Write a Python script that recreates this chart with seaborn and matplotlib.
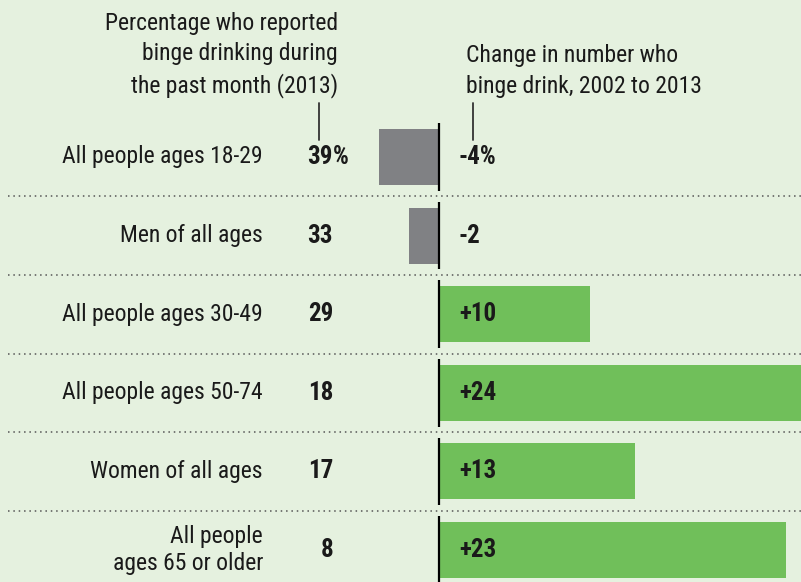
import matplotlib
matplotlib.use('Agg')
import matplotlib.pyplot as plt
import matplotlib.transforms as mtransforms
from matplotlib import font_manager
import seaborn as sns
import pandas as pd

groups = ['All people ages 18-29', 'Men of all ages', 'All people ages 30-49',
          'All people ages 50-74', 'Women of all ages', 'All people\nages 65 or older']
pct_2013 = [39, 33, 29, 18, 17, 8]
change = [-4, -2, 10, 24, 13, 23]
change_labels = ['-4%', '-2', '+10', '+24', '+13', '+23']

bg = '#e5f1df'
green = '#70bf5a'
gray = '#808184'

sns.set_theme(style='white')
installed = {f.name for f in font_manager.fontManager.ttflist}
narrow = [n for n in ['Roboto Condensed', 'Liberation Sans Narrow', 'DejaVu Sans Condensed',
                      'Open Sans Condensed', 'Noto Sans Condensed'] if n in installed]
plt.rcParams['font.family'] = narrow[:1] + ['DejaVu Sans']
plt.rcParams['font.stretch'] = 'condensed'

df = pd.DataFrame({'group': groups, 'change': change})
colors = [gray if v < 0 else green for v in change]

fig = plt.figure(figsize=(8.01, 5.82), dpi=100, facecolor=bg)
ax = fig.add_axes([0, 0, 1, 1])
ax.set_facecolor(bg)

sns.barplot(data=df, x='change', y='group', hue='group', palette=colors,
            orient='h', width=0.71, legend=False, saturation=1, linewidth=0, ax=ax)

# zero at 439px, +24 at the right edge
px_unit = (801 - 439) / 24
ax.set_xlim(-439 / px_unit, 24)
row0, step = 157, 78.6
ax.set_ylim((582 - row0) / step, -row0 / step)
ax.axis('off')

# zero line per row, dotted separators
for i in range(len(groups)):
    ax.vlines(0, i - 0.43, i + 0.43, color='black', lw=1.6)
for i in range(len(groups) - 1):
    ax.plot([8 / 801, 1], [i + 0.5, i + 0.5], transform=mtransforms.blended_transform_factory(ax.transAxes, ax.transData),
            color='#555555', lw=1.1, ls=(0, (1, 2.5)))

tr = mtransforms.blended_transform_factory(fig.transFigure, ax.transData)
fs = 17
fsb = 18
for i, g in enumerate(groups):
    ax.text(263 / 801, i, g, transform=tr, ha='right', va='center', fontsize=fs,
            linespacing=1.25, color='#1a1a1a')
    ax.text(333 / 801, i, str(pct_2013[i]), transform=tr, ha='right', va='center',
            fontsize=fsb, fontweight='bold', color='#1a1a1a')
    if i == 0:
        ax.text(333 / 801, i, '%', transform=tr, ha='left', va='center',
                fontsize=fsb, fontweight='bold', color='#1a1a1a')
    ax.text(459 / 801, i, change_labels[i], transform=tr, ha='left', va='center',
            fontsize=fsb, fontweight='bold', color='#1a1a1a')

# column headers
fig.text(338 / 801, 1 - 55 / 582, 'Percentage who reported\nbinge drinking during\nthe past month (2013)',
         ha='right', va='center', fontsize=fs, linespacing=1.42, color='#1a1a1a')
fig.text(466 / 801, 1 - 71 / 582, 'Change in number who\nbinge drink, 2002 to 2013',
         ha='left', va='center', fontsize=fs, linespacing=1.42, color='#1a1a1a')
fig.add_artist(plt.Line2D([319 / 801, 319 / 801], [1 - 103 / 582, 1 - 140 / 582],
                          transform=fig.transFigure, color='#333333', lw=1.3))
fig.add_artist(plt.Line2D([473 / 801, 473 / 801], [1 - 103 / 582, 1 - 140 / 582],
                          transform=fig.transFigure, color='#333333', lw=1.3))

fig.savefig('out.png', dpi=100, facecolor=bg)
